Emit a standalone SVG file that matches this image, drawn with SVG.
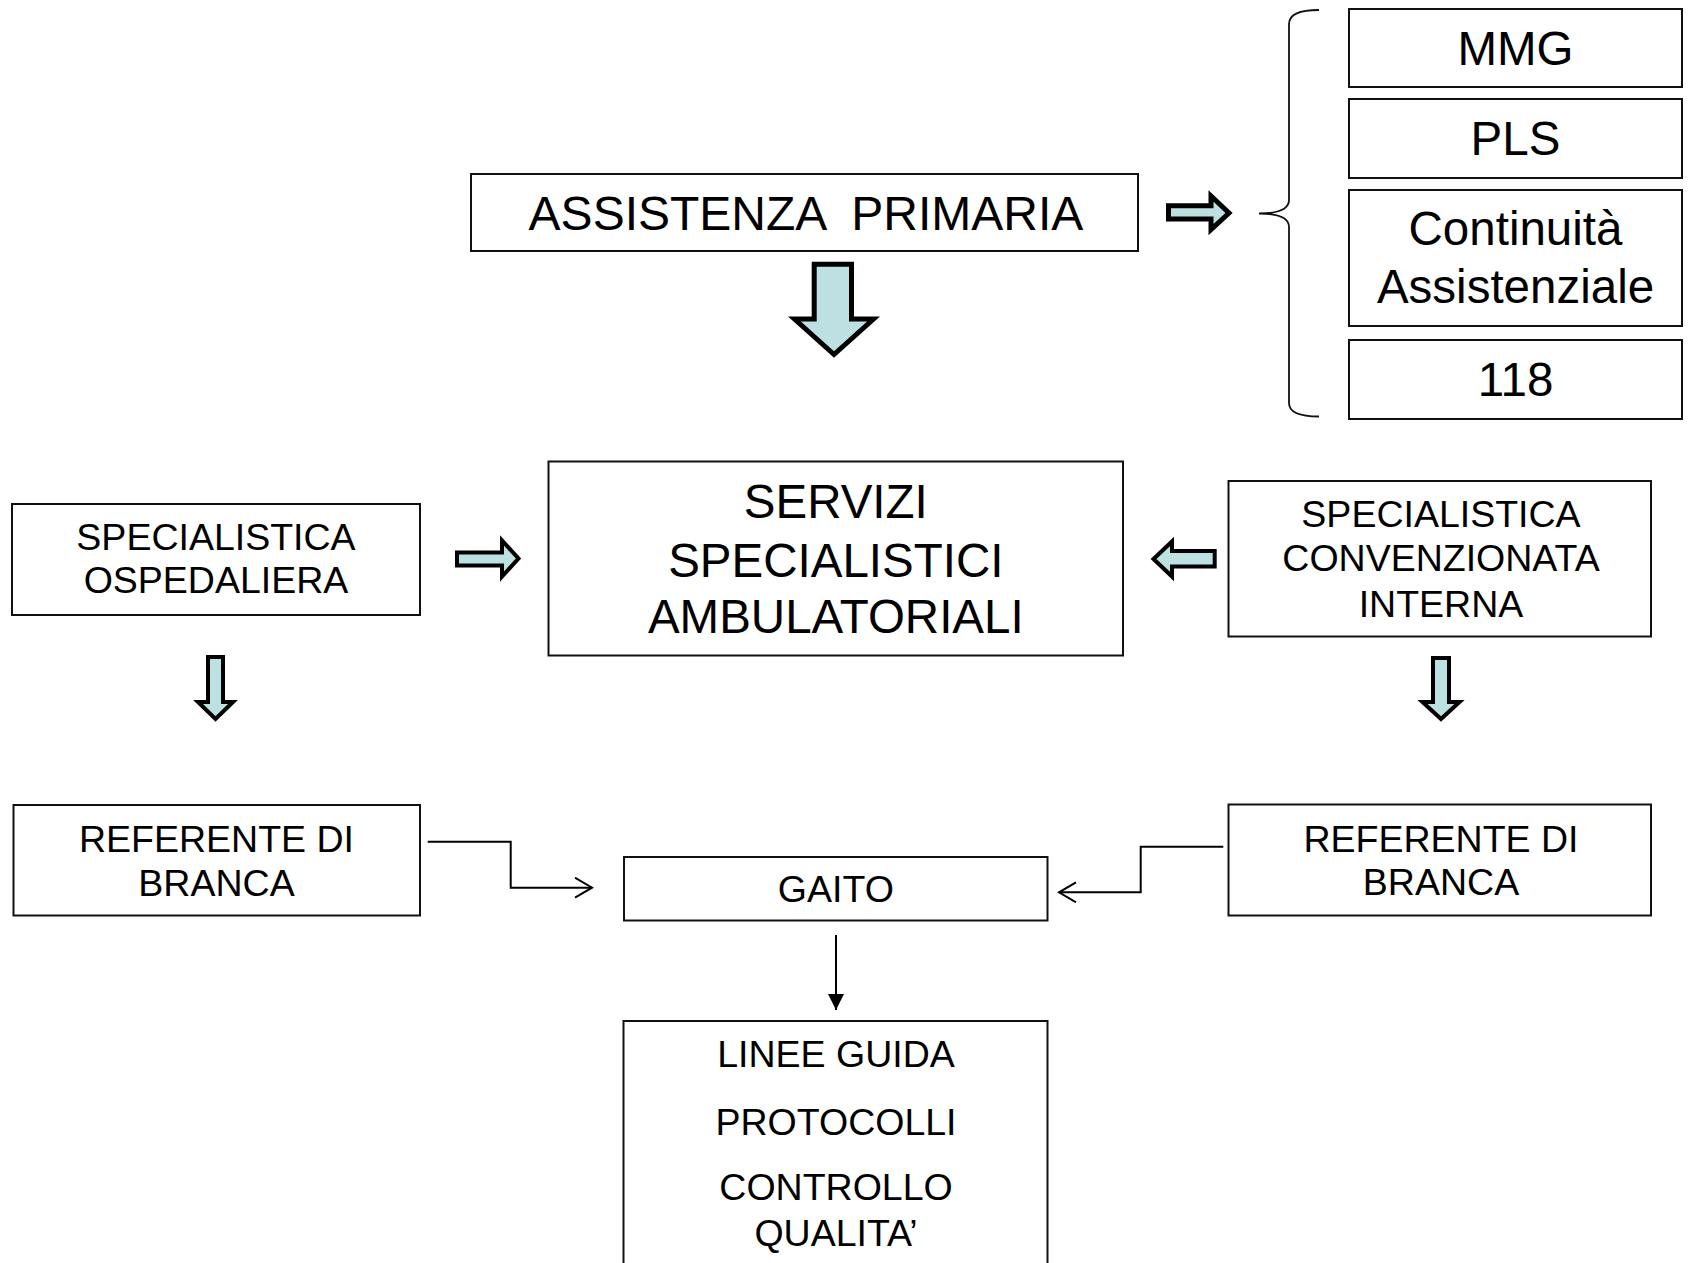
<svg xmlns="http://www.w3.org/2000/svg" width="1690" height="1263" viewBox="0 0 1690 1263">
<style>
.box{fill:#fff;stroke:#111;stroke-width:2}
.t{font-family:"Liberation Sans",Arial,sans-serif;fill:#000;text-anchor:middle}
.t48{font-size:48px}
.t47{font-size:47.5px}
.t37{font-size:37.5px}
.blk{fill:#bde0e2;stroke:#000;stroke-linejoin:miter;stroke-miterlimit:10}
.ln{fill:none;stroke:#000;stroke-width:2}
</style>
<defs>
<marker id="open" markerUnits="userSpaceOnUse" viewBox="0 0 20 22" refX="18" refY="11" markerWidth="20" markerHeight="22" orient="auto">
<path d="M1,1 L18,11 L1,21" fill="none" stroke="#000" stroke-width="2"/>
</marker>
<marker id="solid" markerUnits="userSpaceOnUse" viewBox="0 0 16 16" refX="16" refY="8" markerWidth="16" markerHeight="16" orient="auto">
<path d="M0,0 L16,8 L0,16 z" fill="#000"/>
</marker>
</defs>
<rect width="1690" height="1263" fill="#fff"/>

<g id="assistenza">
<rect class="box" x="471" y="174" width="667" height="77"/>
<text class="t t48" x="806" y="230" xml:space="preserve">ASSISTENZA  PRIMARIA</text>
</g>

<g id="mmg">
<rect class="box" x="1349" y="9" width="333" height="78"/>
<text class="t t47" x="1515.5" y="65">MMG</text>
</g>
<g id="pls">
<rect class="box" x="1349" y="99" width="333" height="79"/>
<text class="t t47" x="1515.5" y="155">PLS</text>
</g>
<g id="continuita">
<rect class="box" x="1349" y="190" width="333" height="136"/>
<text class="t t47" x="1515.5" y="245">Continuità</text>
<text class="t t47" x="1515.5" y="303">Assistenziale</text>
</g>
<g id="n118">
<rect class="box" x="1349" y="340" width="333" height="79"/>
<text class="t t47" x="1515.5" y="396">118</text>
</g>

<g id="servizi">
<rect class="box" x="548.5" y="461.5" width="574.5" height="194"/>
<text class="t t47" x="835.8" y="518">SERVIZI</text>
<text class="t t47" x="835.8" y="576.5">SPECIALISTICI</text>
<text class="t t47" x="835.8" y="632.5">AMBULATORIALI</text>
</g>

<g id="spec-osp">
<rect class="box" x="12" y="504" width="408" height="111"/>
<text class="t t37" x="216" y="550">SPECIALISTICA</text>
<text class="t t37" x="216" y="593">OSPEDALIERA</text>
</g>

<g id="spec-conv">
<rect class="box" x="1228.5" y="481" width="422.5" height="155.5"/>
<text class="t t37" x="1441" y="527">SPECIALISTICA</text>
<text class="t t37" x="1441" y="571">CONVENZIONATA</text>
<text class="t t37" x="1441" y="617">INTERNA</text>
</g>

<g id="ref-left">
<rect class="box" x="13.5" y="805" width="406.5" height="110.5"/>
<text class="t t37" x="216.5" y="852">REFERENTE DI</text>
<text class="t t37" x="216.5" y="896">BRANCA</text>
</g>

<g id="ref-right">
<rect class="box" x="1228.5" y="804.5" width="422.5" height="111"/>
<text class="t t37" x="1441" y="851.5">REFERENTE DI</text>
<text class="t t37" x="1441" y="895">BRANCA</text>
</g>

<g id="gaito">
<rect class="box" x="624" y="857" width="423.5" height="63.5"/>
<text class="t t37" x="835.8" y="902">GAITO</text>
</g>

<g id="linee">
<rect class="box" x="623.5" y="1021" width="424" height="262"/>
<text class="t t37" x="836" y="1066.5">LINEE GUIDA</text>
<text class="t t37" x="836" y="1134.5">PROTOCOLLI</text>
<text class="t t37" x="836" y="1200">CONTROLLO</text>
<text class="t t37" x="836" y="1246">QUALITA’</text>
</g>

<g id="connectors">
<path class="blk" stroke-width="5" d="M1168.5,205.8 L1211,205.8 L1211,196 L1229,213 L1211,229.5 L1211,219 L1168.5,219 Z"/>
<path class="blk" stroke-width="5" d="M814.2,264.2 L851.5,264.2 L851.5,319 L873.5,319 L834,354.5 L794.5,319 L814.2,319 Z"/>
<path class="blk" stroke-width="4" d="M457,552.5 L502,552.5 L502,540.5 L518.5,558.5 L502,576.5 L502,565.5 L457,565.5 Z"/>
<path class="blk" stroke-width="4" d="M1214.7,551 L1172,551 L1172,541.5 L1153.5,559 L1172,576.5 L1172,566.5 L1214.7,566.5 Z"/>
<path class="blk" stroke-width="4" d="M208,657 L223,657 L223,702 L233,702 L215.5,719 L198,702 L208,702 Z"/>
<path class="blk" stroke-width="4" d="M1433,658 L1449,658 L1449,702 L1459.5,702 L1441,719 L1422.5,702 L1433,702 Z"/>
<path fill="none" stroke="#111" stroke-width="1.8" d="M1319,10 Q1289,10 1289,24 L1289,200 Q1289,213.5 1259,213.5 Q1289,213.5 1289,227 L1289,403 Q1289,416.5 1319,416.5"/>
<path class="ln" d="M427.7,841.7 H510.7 V887.7 H592" marker-end="url(#open)"/>
<path class="ln" d="M1223.3,846.7 H1140.7 V892.3 H1059" marker-end="url(#open)"/>
<path class="ln" d="M836,935 V1010" marker-end="url(#solid)"/>
</g>
</svg>
